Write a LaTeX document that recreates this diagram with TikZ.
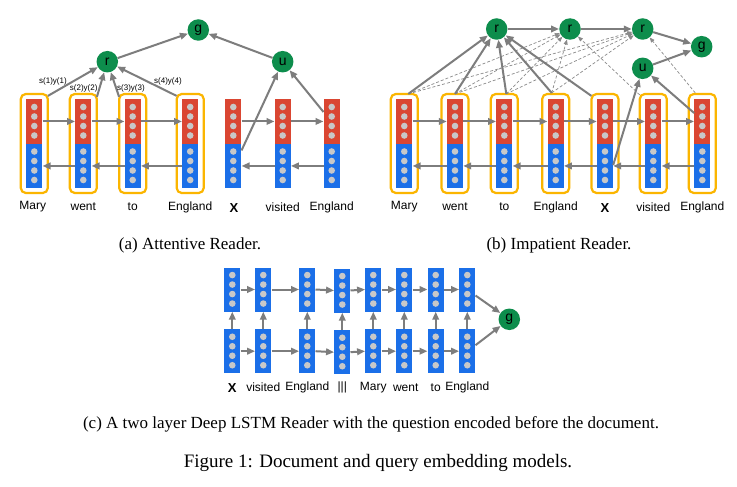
\documentclass[tikz,border=0pt]{standalone}
\usepackage{fontspec}
\setmainfont{Liberation Serif}
\setsansfont{Liberation Sans}
\usetikzlibrary{arrows.meta}
\definecolor{lred}{HTML}{DA4632}
\definecolor{lblue}{HTML}{1B6FE8}
\definecolor{lgreen}{HTML}{0D8D4C}
\definecolor{lorange}{HTML}{FBB500}
\definecolor{lgray}{HTML}{7D7D7D}
\definecolor{ldot}{HTML}{C8C8C8}
\tikzset{
  bar/.style={rectangle, minimum width=16pt, minimum height=44.5pt, inner sep=0pt, anchor=north},
  redbar/.style={bar, fill=lred},
  bluebar/.style={bar, fill=lblue},
  sbar/.style={bar, fill=lblue, minimum height=44pt},
  obox/.style={draw=lorange, line width=2.2pt, rounded corners=5pt, minimum width=27pt, minimum height=99pt, inner sep=0pt},
  arr/.style={draw=lgray, line width=2pt, -{Triangle[length=8pt,width=6.5pt]}},
  darr/.style={draw=lgray!90, line width=0.7pt, dash pattern=on 3pt off 2pt, -{Triangle[length=5pt,width=4pt]}},
  gnode/.style={circle, fill=lgreen, minimum size=21.5pt, inner sep=0pt, font=\sffamily\fontsize{14}{14}\selectfont},
  word/.style={font=\sffamily\fontsize{12}{12}\selectfont, inner sep=0pt},
  xword/.style={font=\sffamily\bfseries\fontsize{13}{13}\selectfont, inner sep=0pt},
  small/.style={font=\sffamily\fontsize{8}{8}\selectfont, inner sep=0pt},
  captxt/.style={font=\fontsize{17}{17}\selectfont, inner sep=0pt},
  figtxt/.style={font=\fontsize{19}{19}\selectfont, inner sep=0pt}
}
\newcommand\bicol[2]{%
  \node[redbar] (#1r) at (#2,99) {};
  \node[bluebar] (#1b) at (#2,143.5) {};
  \foreach \dy in {107,116.5,126,135.5,151.5,161,170.5,180} \fill[ldot] (#2,\dy) circle (3.3pt);
}
\newcommand\bocol[2]{%
  \node[obox] (#1o) at (#2,143.5) {};
  \bicol{#1}{#2}
}
\newcommand\blcol[3]{%
  \node[sbar] (#1) at (#2,#3) {};
  \foreach \dy in {7.75,17.25,26.75,36.25} \fill[ldot] (#2,#3+\dy) circle (3.3pt);
}
\begin{document}
\begin{tikzpicture}[x=1pt,y=-1pt]
\useasboundingbox (0,0) rectangle (737,487);
\fill[white] (0,0) rectangle (737,487);

% ---------------- (a) Attentive Reader
\bocol{aM}{34.3}
\bocol{aW}{83.3}
\bocol{aT}{132.7}
\bocol{aE}{190.2}
\bicol{aX}{233.3}
\bicol{aV}{282.7}
\bicol{aQ}{331.7}
\node[word] (laM) at (32.7,207) {Mary};
\node[word] (laW) at (83.3,207) {went};
\node[word] (laT) at (132.7,207) {to};
\node[word] (laE) at (190.2,207) {England};
\node[xword] (laX) at (234,208) {X};
\node[word] (laV) at (282.7,207) {visited};
\node[word] (laQ) at (331.7,207) {England};
\node[gnode] (ag) at (198.3,30) {g};
\node[gnode] (ar) at (107.3,61.7) {r};
\node[gnode] (au) at (282.7,61.7) {u};
\foreach \a/\b in {aM/aW,aW/aT,aT/aE,aX/aV,aV/aQ}{
  \draw[arr] (\a r.east) -- (\b r.west);
  \draw[arr] (\b b.west) -- (\a b.east);
}
\draw[arr] ([shift={(-1,3)}]aMo.north east) -- (ar);
\draw[arr] ([shift={(-1,4)}]aWo.north east) -- (ar);
\draw[arr] ([shift={(1,4)}]aTo.north west) -- (ar);
\draw[arr] ([shift={(1,3)}]aEo.north west) -- (ar);
\draw[arr] (ar) -- (ag);
\draw[arr] (au) -- (ag);
\draw[arr] ([shift={(0,7)}]aXb.north east) -- (au);
\draw[arr] ([shift={(0,13)}]aQr.north west) -- (au);
\node[small] (s1) at (53,81) {s(1)y(1)};
\node[small] (s2) at (83.7,88.3) {s(2)y(2)};
\node[small] (s3) at (131,88.3) {s(3)y(3)};
\node[small] (s4) at (168,81) {s(4)y(4)};

% ---------------- (b) Impatient Reader
\bocol{bM}{404.3}
\bocol{bW}{455}
\bocol{bT}{504.3}
\bocol{bE}{555.7}
\bocol{bX}{605}
\bocol{bV}{653.3}
\bocol{bQ}{702.3}
\node[word] (lbM) at (404.3,207) {Mary};
\node[word] (lbW) at (455,207) {went};
\node[word] (lbT) at (504.3,207) {to};
\node[word] (lbE) at (555.7,207) {England};
\node[xword] (lbX) at (605,208) {X};
\node[word] (lbV) at (653.3,207) {visited};
\node[word] (lbQ) at (702.3,207) {England};
\node[gnode] (br1) at (496.7,29) {r};
\node[gnode] (br2) at (570,29) {r};
\node[gnode] (br3) at (642.7,29) {r};
\node[gnode] (bg) at (701.7,46.7) {g};
\node[gnode] (bu) at (642.7,68.3) {u};
\foreach \a/\b in {bM/bW,bW/bT,bT/bE,bE/bX,bX/bV,bV/bQ}{
  \draw[arr] (\a r.east) -- (\b r.west);
  \draw[arr] (\b b.west) -- (\a b.east);
}
\coordinate (sM) at ([shift={(4,1)}]bMo.north);
\coordinate (sW) at ([shift={(0,1)}]bWo.north);
\coordinate (sT) at ([shift={(2,1)}]bTo.north);
\coordinate (sE) at ([shift={(-4,0)}]bEo.north);
\foreach \s in {sM,sW,sT,sE}{
  \draw[darr] (\s) -- (br2);
  \draw[darr] (\s) -- (br3);
}
\draw[darr] ([shift={(1,2)}]bVo.north west) -- (br2);
\draw[darr] ([shift={(-7,0)}]bQo.north) -- (br3);
\foreach \s in {sM,sW,sT,sE}{
  \draw[arr] (\s) -- (br1);
}
\draw[arr] ([shift={(1,3)}]bXo.north west) -- (br1);
\draw[arr] (br1) -- (br2);
\draw[arr] (br2) -- (br3);
\draw[arr] (br3) -- (bg);
\draw[arr] (bu) -- (bg);
\draw[arr] ([shift={(0,21.5)}]bXb.north east) -- (bu);
\draw[arr] ([shift={(0,14)}]bQr.north west) -- (bu);

% ---------------- (c) Deep LSTM Reader
\foreach \n/\x/\d in {1/232.3/0,2/263.3/0,3/307.3/0,4/342.3/1,5/373.3/0,6/404.3/0,7/435.7/0,8/467.3/0}{
  \blcol{ct\n}{\x}{267.3+\d}
  \blcol{cb\n}{\x}{329+\d}
  \draw[arr] (cb\n.north) -- (ct\n.south);
}
\foreach \a/\b in {1/2,2/3,3/4,4/5,5/6,6/7,7/8}{
  \draw[arr] (ct\a.east) -- (ct\b.west);
  \draw[arr] (cb\a.east) -- (cb\b.west);
}
\node[gnode] (cg) at (509.3,319.3) {g};
\draw[arr] ([shift={(0,6)}]ct8.east) -- (cg);
\draw[arr] ([shift={(0,-6)}]cb8.east) -- (cg);
\node[xword] (lc1) at (232.3,388) {X};
\node[word] (lc2) at (263.3,387.3) {visited};
\node[word] (lc3) at (307.3,387.3) {England};
\node[word] (lc4) at (342.3,387.3) {|||};
\node[word] (lc5) at (373.3,387.3) {Mary};
\node[word] (lc6) at (405.7,387.3) {went};
\node[word] (lc7) at (435.7,387.3) {to};
\node[word] (lc8) at (467.3,387.3) {England};

% ---------------- captions
\node[captxt] (capa) at (190,245) {(a) Attentive Reader.};
\node[captxt] (capb) at (559,245) {(b) Impatient Reader.};
\node[captxt] (capc) at (371,424) {(c) A two layer Deep LSTM Reader with the question encoded before the document.};
\node[figtxt] (capf) at (378,463) {Figure 1: Document and query embedding models.};
\end{tikzpicture}
\end{document}
